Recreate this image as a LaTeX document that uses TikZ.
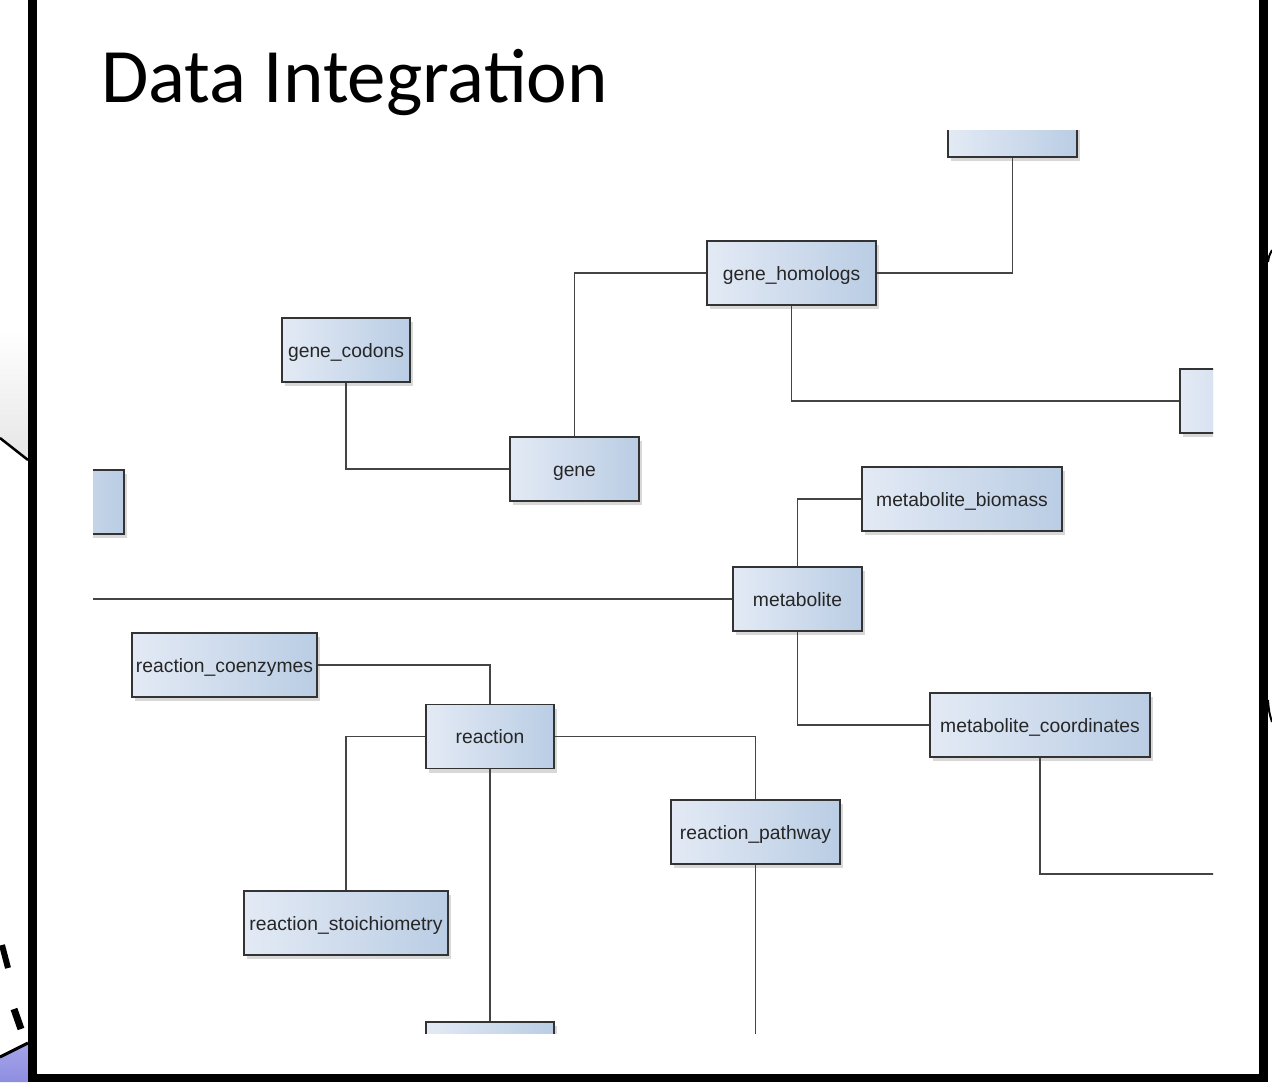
\documentclass[tikz,border=0pt]{standalone}
\usepackage{fontspec}
\usetikzlibrary{shadows}
\newfontfamily\titlefont{Carlito}
\newfontfamily\boxfont{Liberation Sans}
\definecolor{boxL}{HTML}{E3EAF5}
\definecolor{boxR}{HTML}{BACDE4}
\definecolor{boxline}{HTML}{333333}
\definecolor{linkc}{HTML}{444444}
\definecolor{purp}{HTML}{8E8EE2}
\tikzset{
  tbl/.style={draw=boxline, line width=1.6pt, left color=boxL, right color=boxR,
    minimum height=64pt, inner sep=0pt, text=black!85,
    text height=16pt, text depth=2pt,
    font=\boxfont\fontsize{19.3}{22}\selectfont,
    drop shadow={shadow xshift=3pt, shadow yshift=-4pt, opacity=0.25, fill=black!60}},
  link/.style={draw=linkc, line width=1.5pt},
  bar/.style={fill=black, draw=none}
}
\begin{document}
\begin{tikzpicture}[x=1pt, y=-1pt]
\useasboundingbox (0,0) rectangle (1272,1082);
\fill[white] (0,0) rectangle (1272,1082);

% scenery behind the slide, left edge
\shade[top color=white, bottom color=black!10] (0,330) -- (28,330) -- (28,460) -- (0,438) -- cycle;
\draw[black, line width=2.5pt] (0,438) -- (28,460);
\shade[top color=purp!80, bottom color=purp] (0,1057) -- (28,1043) -- (28,1082) -- (0,1082) -- cycle;
\draw[black, line width=3pt] (0,1057) -- (28,1043);
\draw[black, line width=6pt] (2,945) -- (8,968);
\draw[black, line width=7pt] (14,1009) -- (21,1029);
% scenery behind the slide, right edge
\draw[black, line width=2pt] (1268,262) .. controls (1269,256) .. (1272,250);
\draw[black, line width=2pt] (1268,700) .. controls (1269,712) .. (1272,722);

% slide frame
\fill[white] (37,0) rectangle (1259,1074);
\fill[bar] (28,0) rectangle (37,1082);
\fill[bar] (1259,0) rectangle (1268,1082);
\fill[bar] (28,1074) rectangle (1268,1082);

% title
\node[anchor=base west, inner sep=0pt, font=\titlefont\fontsize{77}{90}\selectfont] (title) at (101,102) {Data Integration};

% schema diagram
\begin{scope}
\clip (93,130) rectangle (1213,1033);

\node[tbl, minimum width=129pt] (top) at (1012.5,125) {};
\node[tbl, minimum width=169pt] (gh) at (791.5,273) {gene\_homologs};
\node[tbl, minimum width=129pt] (rbox) at (1244.5,401) {};
\node[tbl, minimum width=128pt] (codons) at (346,350) {gene\_codons};
\node[tbl, minimum width=129pt] (gene) at (574.5,469) {gene};
\node[tbl, minimum width=129pt] (lbox) at (59.5,502) {};
\node[tbl, minimum width=200pt] (biomass) at (962,499) {metabolite\_biomass};
\node[tbl, minimum width=129pt] (metab) at (797.5,599) {metabolite};
\node[tbl, minimum width=220pt] (coords) at (1040,725) {metabolite\_coordinates};
\node[tbl, minimum width=185pt] (coenz) at (224.5,665) {reaction\_coenzymes};
\node[tbl, minimum width=128pt] (reac) at (490,736.5) {reaction};
\node[tbl, minimum width=204pt] (stoich) at (346,923) {reaction\_stoichiometry};
\node[tbl, minimum width=169pt] (path) at (755.5,832) {reaction\_pathway};
\node[tbl, minimum width=128pt] (bbox) at (490,1054) {};

\coordinate (mleft) at (90,599);
\coordinate (cright) at (1216,874);
\coordinate (pbot) at (755.5,1040);

\draw[link] (top.south) |- (gh.east);
\draw[link] (gh.south) |- (rbox.west);
\draw[link] (codons.south) |- (gene.west);
\draw[link] (gene.north) |- (gh.west);
\draw[link] (metab.north) |- (biomass.west);
\draw[link] (mleft) -- (metab.west);
\draw[link] (metab.south) |- (coords.west);
\draw[link] (coords.south) |- (cright);
\draw[link] (coenz.east) -| (reac.north);
\draw[link] (reac.west) -| (stoich.north);
\draw[link] (reac.east) -| (path.north);
\draw[link] (path.south) -- (pbot);
\draw[link] (reac.south) -- (bbox.north);
\end{scope}
\end{tikzpicture}
\end{document}
